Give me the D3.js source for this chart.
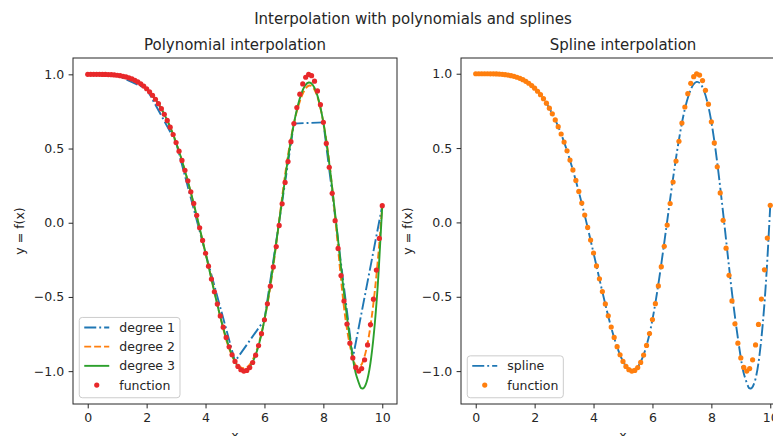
<!DOCTYPE html>
<html>
<head>
<meta charset="utf-8">
<script src="https://cdn.jsdelivr.net/npm/d3@7"></script>
<style>
  body { margin: 0; background: #fff; }
  svg { display: block; font-family: "DejaVu Sans", sans-serif; }
</style>
</head>
<body>
<svg id="chart" width="773" height="436"></svg>
<script>
// sample points (x = 0..10)
const xKnots = [0, 1, 2, 3, 4, 5, 6, 7, 8, 9, 10];
const yKnots = [1, 0.9938, 0.9029, 0.5403, -0.2055, -0.9346, -0.6536, 0.6684, 0.6764, -0.9111, 0.1152];

// function evaluated on the fine grid
const xFn = [
  0, 0.1, 0.2, 0.3, 0.4, 0.5, 0.6, 0.7, 0.8, 0.9,
  1, 1.1, 1.2, 1.3, 1.4, 1.5, 1.6, 1.7, 1.8, 1.9,
  2, 2.1, 2.2, 2.3, 2.4, 2.5, 2.6, 2.7, 2.8, 2.9,
  3, 3.1, 3.2, 3.3, 3.4, 3.5, 3.6, 3.7, 3.8, 3.9,
  4, 4.1, 4.2, 4.3, 4.4, 4.5, 4.6, 4.7, 4.8, 4.9,
  5, 5.1, 5.2, 5.3, 5.4, 5.5, 5.6, 5.7, 5.8, 5.9,
  6, 6.1, 6.2, 6.3, 6.4, 6.5, 6.6, 6.7, 6.8, 6.9,
  7, 7.1, 7.2, 7.3, 7.4, 7.5, 7.6, 7.7, 7.8, 7.9,
  8, 8.1, 8.2, 8.3, 8.4, 8.5, 8.6, 8.7, 8.8, 8.9,
  9, 9.1, 9.2, 9.3, 9.4, 9.5, 9.6, 9.7, 9.8, 9.9,
  10
];
const yFn = [
  1, 1.0, 1.0, 0.9999, 0.9998, 0.9996, 0.9992, 0.9985, 0.9975, 0.9960,
  0.9938, 0.9910, 0.9872, 0.9824, 0.9764, 0.9689, 0.9598, 0.9489, 0.9359, 0.9206,
  0.9029, 0.8823, 0.8588, 0.8322, 0.8021, 0.7684, 0.7309, 0.6895, 0.6440, 0.5945,
  0.5403, 0.4821, 0.4196, 0.3530, 0.2825, 0.2082, 0.1304, 0.0497, -0.0336, -0.1189,
  -0.2055, -0.2926, -0.3795, -0.4650, -0.5482, -0.6282, -0.7035, -0.7731, -0.8356, -0.8898,
  -0.9346, -0.9685, -0.9906, -0.9998, -0.9952, -0.9760, -0.9418, -0.8923, -0.8275, -0.7477,
  -0.6536, -0.5464, -0.4271, -0.2978, -0.1606, -0.0180, 0.1273, 0.2719, 0.4127, 0.5460,
  0.6684, 0.7763, 0.8660, 0.9352, 0.9803, 0.9994, 0.9910, 0.9540, 0.8885, 0.7953,
  0.6764, 0.5345, 0.3736, 0.1982, 0.0140, -0.1729, -0.3558, -0.5278, -0.6822, -0.8118,
  -0.9111, -0.9751, -0.9998, -0.9829, -0.9238, -0.8236, -0.6858, -0.5152, -0.3188, -0.1054,
  0.1152
];

// degree 2 curve
const xQuad = [0, 0.25, 0.5, 0.75, 1, 1.25, 1.5, 1.75, 2, 2.25, 2.5, 2.75, 3, 3.25, 3.5, 3.75,
  4, 4.25, 4.5, 4.75, 5, 5.25, 5.5, 5.75, 6, 6.25, 6.5, 6.75, 7, 7.25, 7.5, 7.75,
  8, 8.25, 8.5, 8.75, 9, 9.125, 9.25, 9.375, 9.5, 9.625, 9.75, 9.875, 10];
const yQuad = [1, 1.0038, 1.0041, 1.0007, 0.9938, 0.9833, 0.9693, 0.9447, 0.9029, 0.8436, 0.7670, 0.6677,
  0.5403, 0.3847, 0.2011, 0.0006, -0.2055, -0.4171, -0.6343, -0.8193, -0.9346, -0.9800, -0.9556, -0.8505,
  -0.6536, -0.3651, 0.0152, 0.3916, 0.6684, 0.8455, 0.9231, 0.8753, 0.6764, 0.3265, -0.1746, -0.6470,
  -0.9111, -0.9651, -0.9670, -0.9168, -0.8145, -0.6602, -0.4538, -0.1953, 0.1152];

// degree 3 curve
const xCubic = [0, 0.25, 0.5, 0.75, 1, 1.25, 1.5, 1.75, 2, 2.25, 2.5, 2.75, 3, 3.25, 3.5, 3.75,
  4, 4.25, 4.5, 4.75, 5, 5.25, 5.5, 5.75, 6, 6.25, 6.5, 6.75, 7, 7.25, 7.5, 7.75,
  8, 8.25, 8.5, 8.75, 9, 9.125, 9.25, 9.3, 9.375, 9.5, 9.625, 9.75, 9.875, 10];
const yCubic = [1, 0.9964, 0.9961, 0.9962, 0.9938, 0.9862, 0.9704, 0.9435, 0.9029, 0.8454, 0.7679, 0.6673,
  0.5403, 0.3851, 0.2055, 0.0069, -0.2055, -0.4240, -0.6315, -0.8082, -0.9346, -0.9927, -0.9715, -0.8616,
  -0.6536, -0.3488, 0.0092, 0.3663, 0.6684, 0.8679, 0.9448, 0.8854, 0.6764, 0.3201, -0.1176, -0.5553,
  -0.9111, -1.0329, -1.1036, -1.1154, -1.1131, -1.0512, -0.9076, -0.6721, -0.3346, 0.1152];

// spline curve (right panel)
const xSpline = xCubic;
const ySpline = [1, 0.9964, 0.9961, 0.9962, 0.9938, 0.9862, 0.9704, 0.9435, 0.9029, 0.8454, 0.7679, 0.6673,
  0.5403, 0.3851, 0.2055, 0.0069, -0.2055, -0.4240, -0.6315, -0.8082, -0.9346, -0.9927, -0.9715, -0.8616,
  -0.6536, -0.3488, 0.0092, 0.3663, 0.6684, 0.8679, 0.9448, 0.8854, 0.6764, 0.3201, -0.1176, -0.5553,
  -0.9111, -1.0329, -1.1036, -1.1154, -1.1131, -1.0512, -0.9076, -0.6721, -0.3346, 0.1152];

const xTicks = [0, 2, 4, 6, 8, 10];
const yTicks = [-1.0, -0.5, 0.0, 0.5, 1.0];

const C0 = '#1f77b4', C1 = '#ff7f0e', C2 = '#2ca02c', RED = '#e8282a';
const TEXT = '#262626';
const FS = 12.5;
const LW = 1.9;
const DOT_R = 2.6;
const DASHDOT = '12,3,1.9,3';
const DASHED = '6.9,3';

const svg = d3.select('#chart');
const zip = (xs, ys) => xs.map((x, i) => [x, ys[i]]);

svg.append('text')
  .attr('x', 413).attr('y', 24)
  .attr('text-anchor', 'middle')
  .attr('font-size', 15).attr('fill', TEXT)
  .text('Interpolation with polynomials and splines');

function drawPanel(opts) {
  const top = 58, bottom = 404;
  const { left, right, title, lines, dots, legendId } = opts;

  // y limits like matplotlib: data extent + 5% margin
  const allY = lines.flatMap(l => l.data.map(d => d[1])).concat(dots.data.map(d => d[1]));
  const ymin = d3.min(allY), ymax = d3.max(allY);
  const pad = (ymax - ymin) * 0.05;

  const x = d3.scaleLinear().domain([-0.5, 10.5]).range([left, right]);
  const y = d3.scaleLinear().domain([ymin - pad, ymax + pad]).range([bottom, top]);

  const g = svg.append('g');

  g.append('clipPath').attr('id', 'clip-' + legendId)
    .append('rect')
    .attr('x', left).attr('y', top)
    .attr('width', right - left).attr('height', bottom - top);

  const plot = g.append('g').attr('clip-path', `url(#clip-${legendId})`);

  lines.forEach(l => {
    const line = d3.line()
      .x(d => x(d[0]))
      .y(d => y(d[1]))
      .curve(l.curve);
    plot.append('path')
      .datum(l.data)
      .attr('d', line)
      .attr('fill', 'none')
      .attr('stroke', l.color)
      .attr('stroke-width', LW)
      .attr('stroke-dasharray', l.dash || null);
  });

  plot.selectAll('circle.pt')
    .data(dots.data)
    .join('circle')
    .attr('class', 'pt')
    .attr('cx', d => x(d[0]))
    .attr('cy', d => y(d[1]))
    .attr('r', DOT_R)
    .attr('fill', dots.color);

  // axes
  const xAxis = g.append('g')
    .attr('transform', `translate(0,${bottom})`)
    .call(d3.axisBottom(x).tickValues(xTicks).tickFormat(d3.format('d')).tickSize(4.4).tickPadding(4.4));
  const yAxis = g.append('g')
    .attr('transform', `translate(${left},0)`)
    .call(d3.axisLeft(y).tickValues(yTicks).tickFormat(d3.format('.1f')).tickSize(4.4).tickPadding(4.4));

  [xAxis, yAxis].forEach(a => {
    a.select('.domain').remove();
    a.selectAll('line').attr('stroke', TEXT).attr('stroke-width', 1);
    a.selectAll('text').attr('fill', TEXT).attr('font-size', FS).attr('font-family', '"DejaVu Sans", sans-serif');
  });

  g.append('rect')
    .attr('x', left).attr('y', top)
    .attr('width', right - left).attr('height', bottom - top)
    .attr('fill', 'none')
    .attr('stroke', TEXT)
    .attr('stroke-width', 1);

  g.append('text')
    .attr('x', (left + right) / 2).attr('y', top - 8)
    .attr('text-anchor', 'middle')
    .attr('font-size', 15).attr('fill', TEXT)
    .text(title);

  g.append('text')
    .attr('transform', `translate(${left - 49},${(top + bottom) / 2}) rotate(-90)`)
    .attr('text-anchor', 'middle')
    .attr('font-size', FS).attr('fill', TEXT)
    .text('y = f(x)');

  g.append('text')
    .attr('x', (left + right) / 2).attr('y', 440)
    .attr('text-anchor', 'middle')
    .attr('font-size', FS).attr('fill', TEXT)
    .text('x');

  // legend, lower left
  const entries = lines.map(l => ({ label: l.label, color: l.color, dash: l.dash, type: 'line' }))
    .concat([{ label: dots.label, color: dots.color, type: 'dot' }]);
  const rowH = 19.2;
  const boxX = left + 6.25;
  const boxH = entries.length * rowH + 3.5;
  const boxY = bottom - 6.25 - boxH;
  const leg = g.append('g');
  const box = leg.append('rect')
    .attr('x', boxX).attr('y', boxY)
    .attr('height', boxH)
    .attr('rx', 3)
    .attr('fill', 'white').attr('fill-opacity', 0.8)
    .attr('stroke', '#cccccc').attr('stroke-width', 1);

  let maxW = 0;
  entries.forEach((e, i) => {
    const cy = boxY + 10 + i * rowH;
    const hx = boxX + 5;
    if (e.type === 'line') {
      leg.append('line')
        .attr('x1', hx).attr('x2', hx + 25)
        .attr('y1', cy).attr('y2', cy)
        .attr('stroke', e.color).attr('stroke-width', LW)
        .attr('stroke-dasharray', e.dash || null);
    } else {
      leg.append('circle')
        .attr('cx', hx + 12.5).attr('cy', cy).attr('r', DOT_R)
        .attr('fill', e.color);
    }
    const t = leg.append('text')
      .attr('x', hx + 35).attr('y', cy)
      .attr('dy', '0.36em')
      .attr('font-size', FS).attr('fill', TEXT)
      .text(e.label);
    maxW = Math.max(maxW, t.node().getComputedTextLength());
  });
  box.attr('width', 5 + 25 + 10 + maxW + 5);
}

drawPanel({
  left: 73, right: 397,
  title: 'Polynomial interpolation',
  legendId: 'poly',
  lines: [
    { label: 'degree 1', data: zip(xKnots, yKnots), color: C0, dash: DASHDOT, curve: d3.curveLinear },
    { label: 'degree 2', data: zip(xQuad, yQuad), color: C1, dash: DASHED, curve: d3.curveNatural },
    { label: 'degree 3', data: zip(xCubic, yCubic), color: C2, curve: d3.curveNatural }
  ],
  dots: { label: 'function', data: zip(xFn, yFn), color: RED }
});

drawPanel({
  left: 461, right: 785,
  title: 'Spline interpolation',
  legendId: 'spline',
  lines: [
    { label: 'spline', data: zip(xSpline, ySpline), color: C0, dash: DASHDOT, curve: d3.curveNatural }
  ],
  dots: { label: 'function', data: zip(xFn, yFn), color: C1 }
});
</script>
</body>
</html>
